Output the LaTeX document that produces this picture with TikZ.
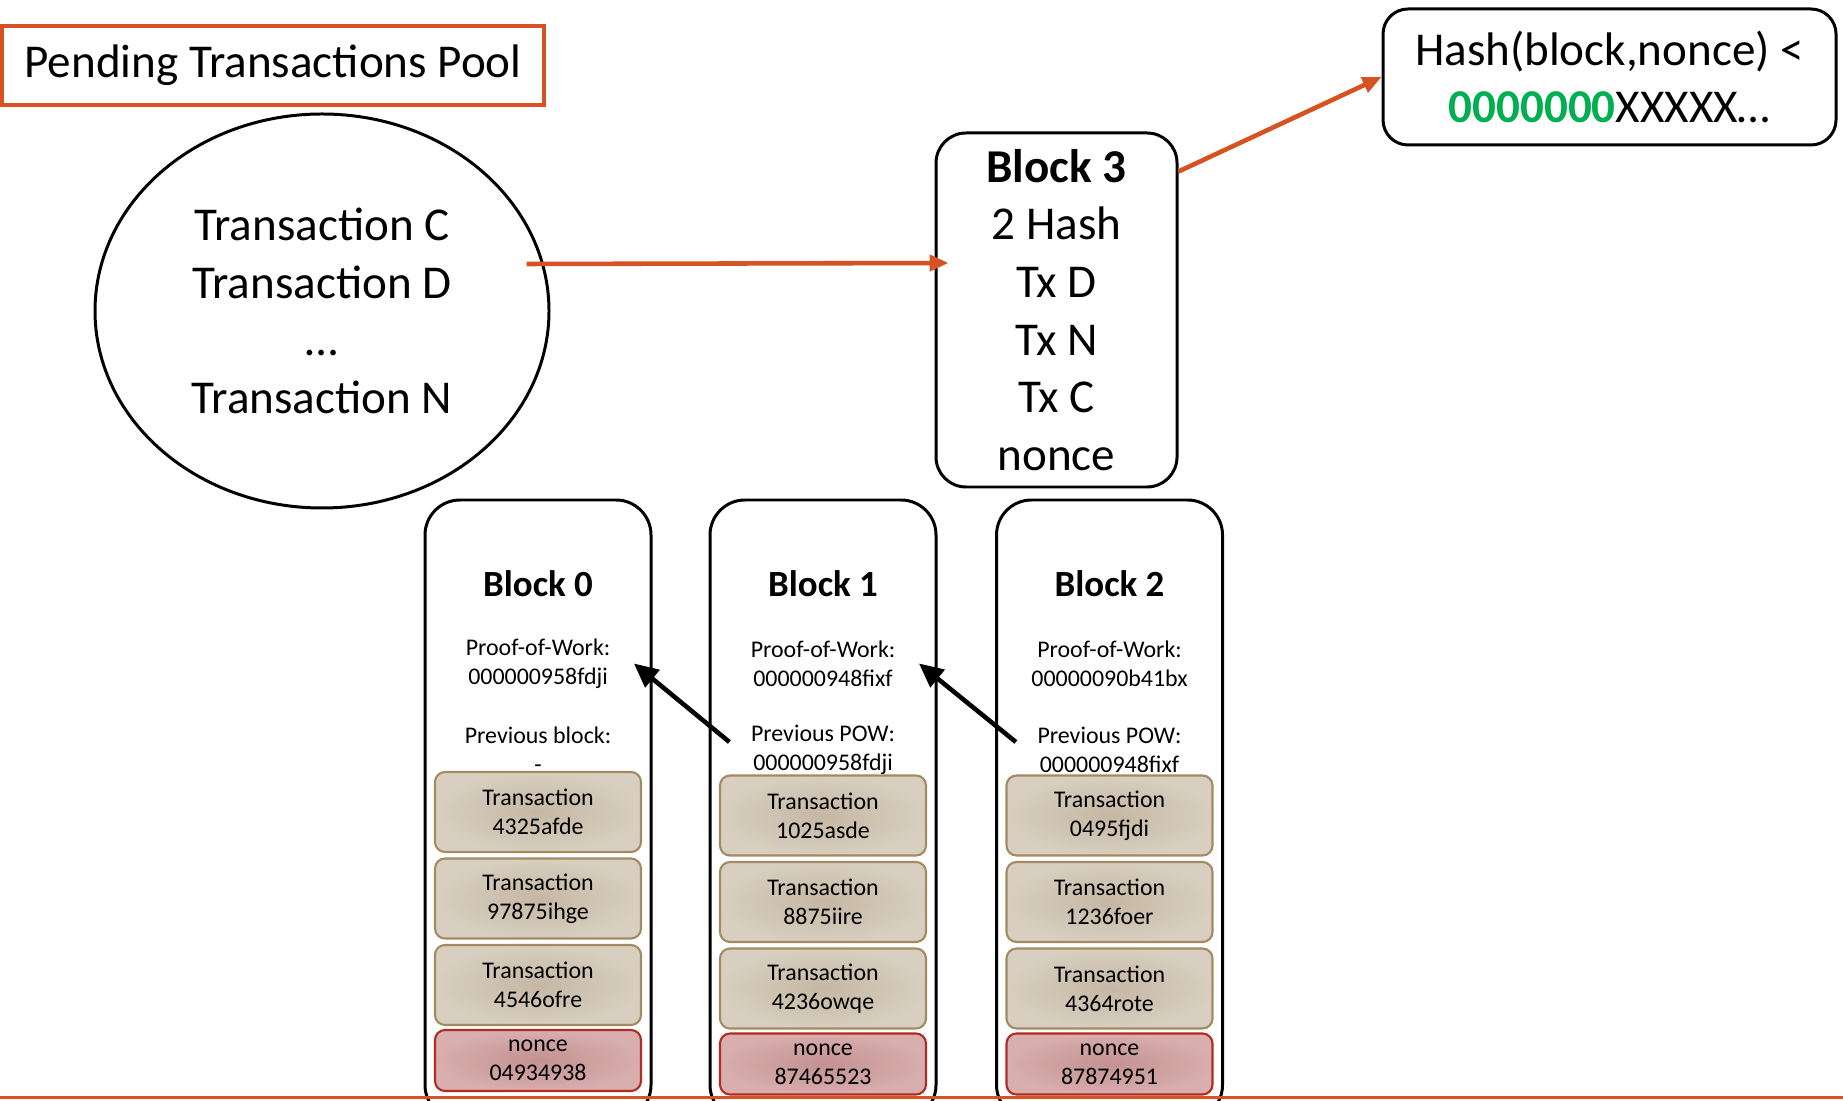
\documentclass[tikz,border=0pt]{standalone}
\usepackage{fontspec}
\setmainfont{Carlito}
\usetikzlibrary{arrows.meta,positioning,shapes.geometric}
\definecolor{pptorange}{RGB}{214,82,34}
\definecolor{pptgreen}{RGB}{0,176,80}
\definecolor{txfill}{RGB}{216,207,192}
\definecolor{txdark}{RGB}{197,183,162}
\definecolor{txline}{RGB}{163,138,98}
\definecolor{ncfill}{RGB}{216,174,174}
\definecolor{ncdark}{RGB}{195,145,145}
\definecolor{ncline}{RGB}{178,42,32}
\newcommand{\bigtxt}{\fontsize{13.4}{16.4}\selectfont}
\newcommand{\midtxt}{\fontsize{10.5}{12.6}\selectfont}
\newcommand{\smltxt}{\fontsize{6.8}{8.25}\selectfont}
\tikzstyle{blk}=[draw, line width=0.85pt, rounded corners=0.35cm,
  minimum width=2.26cm, minimum height=6.2cm]
\tikzstyle{txbox}=[draw=txline, line width=0.6pt, rounded corners=0.1cm,
  inner color=txdark, outer color=txfill, minimum width=2.06cm,
  minimum height=0.8cm, align=center, font=\smltxt, inner sep=1pt]
\tikzstyle{ncbox}=[txbox, draw=ncline, inner color=ncdark, outer color=ncfill,
  minimum height=0.61cm]
\tikzstyle{arrow}=[-{Triangle[length=2.4mm,width=2.2mm]}, line width=1.3pt]
\tikzstyle{orarrow}=[-{Triangle[length=1.9mm,width=1.6mm]}, line width=1.3pt, pptorange]

\begin{document}
\begin{tikzpicture}
\useasboundingbox (0,0) rectangle (18.43,11);
\clip (0,0) rectangle (18.43,11);
% 交易池
\node[draw=pptorange, line width=0.9pt, minimum width=5.42cm, minimum height=0.79cm,
  font=\bigtxt, inner sep=0] (pend) at (2.73,10.345) {Pending Transactions Pool\hspace{0.13cm}};
\node[ellipse, draw, line width=0.85pt, minimum width=4.54cm, minimum height=3.94cm,
  align=center, font=\bigtxt] (pool) at (3.22,7.89)
  {Transaction C\\Transaction D\\…\\Transaction N};
% 待挖的区块
\node[draw, line width=0.85pt, rounded corners=0.3cm, minimum width=2.41cm,
  minimum height=3.54cm, align=center, font=\bigtxt, inner sep=1pt] (blk3) at (10.565,7.90)
  {\textbf{Block 3}\\2 Hash\\Tx D\\Tx N\\Tx C\\nonce};
\node[draw, line width=0.85pt, rounded corners=0.25cm, minimum width=4.53cm,
  minimum height=1.36cm, align=center, font=\bigtxt, inner sep=1pt] (hash) at (16.095,10.23)
  {Hash(block,nonce) <\\\textcolor{pptgreen}{\textbf{0000000}}XXXXX…};
% 链上的区块
\foreach \i/\x/\ty/\pw/\pl/\pv/\ta/\tb/\tc/\nc in {
  0/5.38/2.88/000000958fdji/block/-/4325afde/97875ihge/4546ofre/04934938,
  1/8.23/2.845/000000948fixf/POW/000000958fdji/1025asde/8875iire/4236owqe/87465523,
  2/11.095/2.845/00000090b41bx/POW/000000948fixf/0495fjdi/1236foer/4364rote/87874951} {
  \node[blk] (blk\i) at (\x,2.90) {};
  \node[font=\midtxt\bfseries] (ttl\i) at (\x,5.16) {Block \i};
  \node[font=\smltxt, align=center, inner sep=0] (pow\i) at (\x,4.365) {Proof-of-Work:\\\pw};
  \node[font=\smltxt, align=center, inner sep=0] (prv\i) at (\x,3.50) {Previous \pl:\\\pv};
  \node[txbox] (ta\i) at (\x,\ty) {Transaction\\\ta};
  \node[txbox] (tb\i) at (\x,\ty-0.865) {Transaction\\\tb};
  \node[txbox] (tc\i) at (\x,\ty-1.73) {Transaction\\\tc};
  \node[ncbox] (nc\i) at (\x,\ty-2.485) {nonce\\\nc};
}
% 连接
\draw[arrow] ([xshift=-2.1mm,yshift=0.8mm]prv1.west) -- ([xshift=2.3mm]pow0.east);
\draw[arrow] ([xshift=-2.1mm,yshift=0.8mm]prv2.west) -- ([xshift=2.3mm]pow1.east);
\draw[orarrow] ([xshift=-2.4mm,yshift=4.7mm]pool.east) -- ([xshift=1.4mm,yshift=4.7mm]blk3.west);
\draw[orarrow] ([yshift=-4mm]blk3.north east) -- (hash.west);
\draw[pptorange, line width=1pt] (0,0.025) -- (18.43,0.025);
\end{tikzpicture}
\end{document}
